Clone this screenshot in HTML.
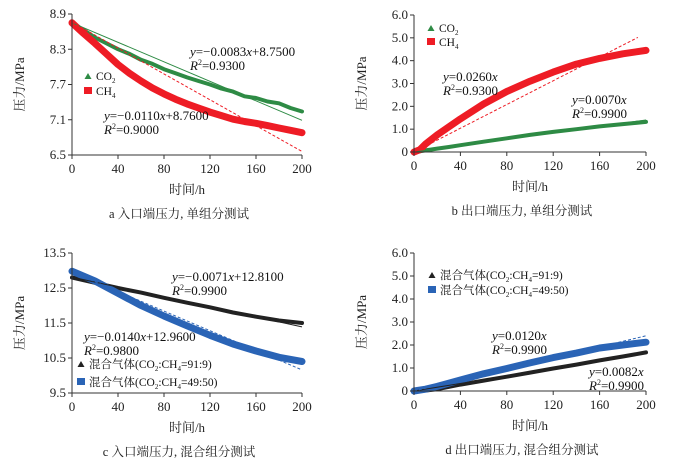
<!DOCTYPE html>
<html><head><meta charset="utf-8">
<style>
body{margin:0;background:#fff;}
svg{display:block;font-family:"Liberation Serif","Noto Serif CJK SC",serif;}
.t{font-size:13px;fill:#222;}
.cap{font-size:12.5px;fill:#222;}
.eq{font-size:13px;fill:#111;}
.lg{font-size:11.5px;fill:#111;}
</style></head>
<body>
<svg id="chart" width="691" height="472" viewBox="0 0 691 472" xmlns="http://www.w3.org/2000/svg"></svg>
<script>
// ---- data ----
const hoursA = [0,10,20,30,40,50,60,70,80,90,100,110,120,130,140,150,160,170,180,190,200];
const aCO2 = [8.75,8.63,8.5,8.4,8.3,8.22,8.12,8.05,7.96,7.89,7.82,7.76,7.7,7.63,7.58,7.5,7.47,7.41,7.38,7.3,7.24];
const aCH4 = [8.75,8.57,8.4,8.22,8.04,7.89,7.76,7.64,7.54,7.45,7.37,7.3,7.23,7.17,7.11,7.07,7.04,7.0,6.96,6.92,6.88];
const hoursB = [0,5,10,20,30,40,60,80,100,120,140,160,180,200];
const bCO2 = [0,0.03,0.07,0.15,0.22,0.3,0.45,0.6,0.75,0.88,1.0,1.12,1.22,1.32];
const bCH4 = [0,0.1,0.35,0.75,1.1,1.45,2.1,2.65,3.1,3.5,3.85,4.1,4.3,4.45];
const hoursC = [0,20,40,60,80,100,120,140,160,180,200];
const cMix91 = [12.8,12.65,12.5,12.37,12.22,12.08,11.95,11.8,11.68,11.57,11.5];
const cMix49 = [12.98,12.7,12.35,12.0,11.7,11.42,11.15,10.9,10.7,10.52,10.4];
const hoursD = [0,10,20,40,60,80,100,120,140,160,180,200];
const dMix91 = [0,0.02,0.08,0.28,0.45,0.62,0.8,0.98,1.15,1.33,1.5,1.68];
const dMix49 = [0,0.08,0.2,0.48,0.75,0.98,1.22,1.45,1.65,1.87,2.0,2.12];
const xTicks = [0,40,80,120,160,200];
const yTicksA = ["6.5","7.1","7.7","8.3","8.9"];
const yTicksC = ["9.5","10.5","11.5","12.5","13.5"];
const yTicksB = ["0","1.0","2.0","3.0","4.0","5.0","6.0"];
const fitA_CO2 = [-0.0083,8.75], fitA_CH4 = [-0.011,8.76];
const fitB_CO2 = [0.007,0], fitB_CH4 = [0.026,0];
const fitC_91 = [-0.0071,12.81], fitC_49 = [-0.014,12.96];
const fitD_91 = [0.0082,0], fitD_49 = [0.012,0];

const NS="http://www.w3.org/2000/svg";
const svg=document.getElementById('chart');
function mk(tag,attrs,parent){const e=document.createElementNS(NS,tag);for(const k in attrs)e.setAttribute(k,attrs[k]);(parent||svg).appendChild(e);return e;}

function panel(id,x0,x1,yTop,yBot,ticks,title,series,fits){
  const g=mk('g',{});
  
  
  const ymin=parseFloat(ticks[0]),ymax=parseFloat(ticks[ticks.length-1]);
  const sx=v=>x0+(v/200)*(x1-x0);
  const sy=v=>yBot-(v-ymin)/(ymax-ymin)*(yBot-yTop);
  series.forEach(s=>{
    const pts=s.x.map((h,i)=>sx(h).toFixed(1)+','+sy(s.y[i]).toFixed(1)).join(' ');
    const p=mk('polyline',{points:pts,fill:'none',stroke:s.color,'stroke-width':s.w,'stroke-linejoin':'round','stroke-linecap':'round'},g);
    
    
  });
  fits.forEach(f=>{
    const e=f.end||200;
    const l=mk('line',{x1:sx(0),y1:sy(f.c[1]),x2:sx(e),y2:sy(f.c[0]*e+f.c[1]),stroke:f.color,'stroke-width':1,'stroke-dasharray':f.dash||'none'},g);
    
    
  });
  const ax=mk('path',{d:`M${x0},${yTop}V${yBot}H${x1}`,fill:'none',stroke:'#333','stroke-width':1},g);
  
  
  xTicks.forEach(v=>{
    mk('line',{x1:sx(v),x2:sx(v),y1:yBot,y2:yBot+4,stroke:'#333'},g);
    const t=mk('text',{x:sx(v),y:yBot+18,'text-anchor':'middle',class:'t'},g);t.textContent=v;
    
    
  });
  ticks.forEach(v=>{
    const yy=sy(parseFloat(v));
    mk('line',{x1:x0-4,x2:x0,y1:yy,y2:yy,stroke:'#333'},g);
    const t=mk('text',{x:x0-6,y:yy+4,'text-anchor':'end',class:'t'},g);t.textContent=v;
    
    
  });
  const xt=mk('text',{x:(x0+x1)/2,y:yBot+39,'text-anchor':'middle',class:'t'},g);xt.textContent='时间/h';
  
  
  const ym=(yTop+yBot)/2;
  const yt=mk('text',{x:x0-48,y:ym,'text-anchor':'middle',class:'t',transform:`rotate(-90 ${x0-48} ${ym})`},g);yt.textContent='压力/MPa';
  
  
  const ct=mk('text',{x:(x0+x1)/2-8,y:yBot+63,'text-anchor':'middle',class:'cap'},g);ct.textContent=title;
  
  
  return g;
}
function eq(g,x,y,txt,r2){
  const t=mk('text',{x:x,y:y,class:'eq'},g);
  t.innerHTML='<tspan font-style="italic">y</tspan>'+txt.replace('x','<tspan font-style="italic">x</tspan>');
  
  
  const r=mk('text',{x:x,y:y+14,class:'eq'},g);
  r.innerHTML='<tspan font-style="italic">R</tspan><tspan font-size="8" dy="-5">2</tspan><tspan dy="5">='+r2+'</tspan>';
  
  
}
function legend(g,x,y,shape,color,html){
  const lg=mk('g',{},g);
  
  
  if(shape==='tri') mk('path',{d:`M${x},${y-7}l3.5,6h-7z`,fill:color},lg);
  else mk('rect',{x:x-4,y:y-8,width:8,height:7,fill:color},lg);
  const t=mk('text',{x:x+8,y:y,class:'lg'},lg);t.innerHTML=html;
}
const GREEN='#2e8b45',RED='#ee1c25',BLUE='#2a64b6',BLACK='#222';
const co2='CO<tspan font-size="7" dy="3">2</tspan>',ch4='CH<tspan font-size="7" dy="3">4</tspan>';
const mix91='混合气体(CO<tspan font-size="7" dy="3">2</tspan><tspan dy="-3">:CH</tspan><tspan font-size="7" dy="3">4</tspan><tspan dy="-3">=91:9)</tspan>';
const mix49='混合气体(CO<tspan font-size="7" dy="3">2</tspan><tspan dy="-3">:CH</tspan><tspan font-size="7" dy="3">4</tspan><tspan dy="-3">=49:50)</tspan>';

let g=panel('a',72,302,14,155,yTicksA,'a  入口端压力, 单组分测试',
 [{x:hoursA,y:aCO2,color:GREEN,w:4,name:'series-co2'},{x:hoursA,y:aCH4,color:RED,w:7,name:'series-ch4'}],
 [{c:fitA_CO2,color:GREEN,name:'fit-co2'},{c:fitA_CH4,color:RED,dash:'3,2',name:'fit-ch4'}]);
eq(g,190,56,'=−0.0083x+8.7500','0.9300');
eq(g,104,120,'=−0.0110x+8.7600','0.9000');
legend(g,88,80,'tri',GREEN,co2);
legend(g,88,95,'sq',RED,ch4);

g=panel('b',414,646,15,152,yTicksB,'b  出口端压力, 单组分测试',
 [{x:hoursB,y:bCO2,color:GREEN,w:4,name:'series-co2'},{x:hoursB,y:bCH4,color:RED,w:7,name:'series-ch4'}],
 [{c:fitB_CO2,color:GREEN,name:'fit-co2'},{c:fitB_CH4,color:RED,dash:'3,2',end:193,name:'fit-ch4'}]);
eq(g,443,81,'=0.0260x','0.9300');
eq(g,572,104,'=0.0070x','0.9900');
legend(g,431,32,'tri',GREEN,co2);
legend(g,431,46,'sq',RED,ch4);

g=panel('c',72,302,253,393,yTicksC,'c  入口端压力, 混合组分测试',
 [{x:hoursC,y:cMix91,color:BLACK,w:4,name:'series-mix-91-9'},{x:hoursC,y:cMix49,color:BLUE,w:7,name:'series-mix-49-50'}],
 [{c:fitC_91,color:BLACK,name:'fit-mix-91-9'},{c:fitC_49,color:BLUE,dash:'3,2',name:'fit-mix-49-50'}]);
eq(g,172,281,'=−0.0071x+12.8100','0.9900');
eq(g,84,341,'=−0.0140x+12.9600','0.9800');
legend(g,81,368,'tri',BLACK,mix91);
legend(g,81,386,'sq',BLUE,mix49);

g=panel('d',414,646,253,391,yTicksB,'d  出口端压力, 混合组分测试',
 [{x:hoursD,y:dMix91,color:BLACK,w:4,name:'series-mix-91-9'},{x:hoursD,y:dMix49,color:BLUE,w:7,name:'series-mix-49-50'}],
 [{c:fitD_91,color:BLACK,name:'fit-mix-91-9'},{c:fitD_49,color:BLUE,dash:'3,2',name:'fit-mix-49-50'}]);
eq(g,492,340,'=0.0120x','0.9900');
eq(g,589,376,'=0.0082x','0.9900');
legend(g,432,279,'tri',BLACK,mix91);
legend(g,432,294,'sq',BLUE,mix49);
</script>
</body></html>
